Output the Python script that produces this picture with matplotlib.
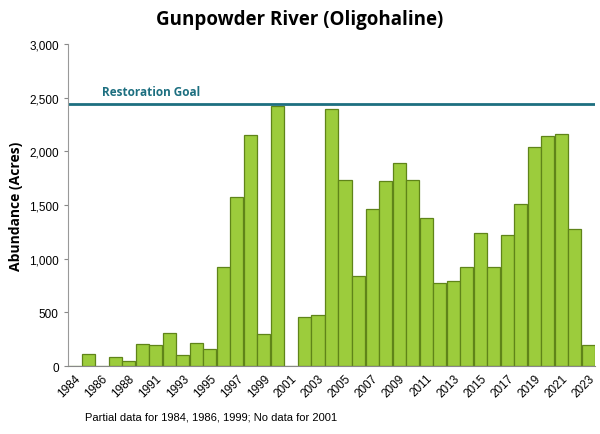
import matplotlib
matplotlib.use("Agg")
import matplotlib.pyplot as plt
import numpy as np

years = [1984,1985,1986,1987,1988,1989,1991,1992,1993,1994,1995,1996,1997,1998,1999,2000,2001,
         2002,2003,2004,2005,2006,2007,2008,2009,2010,2011,2012,2013,2014,2015,2016,2017,2018,
         2019,2020,2021,2022,2023]
values = [0,115,0,85,50,210,195,310,100,215,160,920,1570,2150,300,2420,0,
          460,480,2390,1730,840,1460,1720,1890,1730,1380,770,790,920,1240,920,1220,1510,
          2040,2140,2160,1280,200]
goal = 2440
yticks = [0,500,1000,1500,2000,2500,3000]

fig = plt.figure(figsize=(6,4.35), dpi=100)
ax = fig.add_axes([0.113,0.156,0.879,0.741])
x = np.arange(len(years))
ax.bar(x, values, width=0.97, color="#9ccc3c", edgecolor="#5f8419", linewidth=0.9)
ax.axhline(goal, color="#1d6f80", lw=2)
ax.text(2.0, goal+60, "Restoration Goal", color="#1d6f80", fontsize=8.5, fontweight="bold",
        family="Open Sans", va="bottom")
ax.set_xlim(-0.5, len(years)-0.5)
ax.set_ylim(0,3000)
ax.set_yticks(yticks)
ax.set_yticklabels([f"{v:,}" for v in yticks], fontsize=8.5, family="Liberation Sans")
ax.set_xticks(x[::2])
ax.set_xticklabels([str(y) for y in years[::2]], rotation=45, ha="right", rotation_mode="anchor",
                   fontsize=8.5, family="Liberation Sans")
ax.tick_params(axis="x", length=0, pad=4)
ax.tick_params(axis="y", length=3, color="#888888")
for s in ["top","right"]:
    ax.spines[s].set_visible(False)
ax.spines["left"].set_color("#999999")
ax.spines["bottom"].set_color("#888888")
ax.set_ylabel("Abundance (Acres)", fontsize=10, fontweight="bold", family="Open Sans")
fig.text(0.5, 0.955, "Gunpowder River (Oligohaline)", ha="center", va="center",
         fontsize=13.5, fontweight="bold", family="Open Sans")
fig.text(0.142, 0.04, "Partial data for 1984, 1986, 1999; No data for 2001", fontsize=8,
         family="Liberation Sans", va="center")
fig.savefig("out.png", dpi=100)
